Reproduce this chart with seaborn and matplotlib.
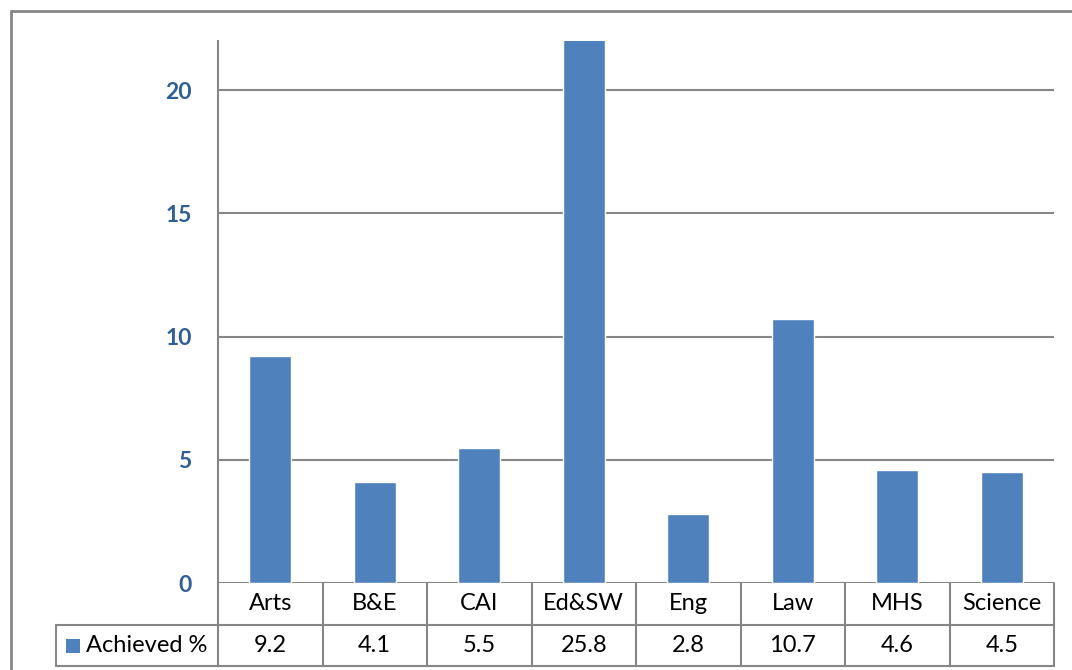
import matplotlib
matplotlib.use("Agg")
import matplotlib.pyplot as plt
import matplotlib.transforms as mtransforms
from matplotlib.patches import Rectangle
from matplotlib.lines import Line2D
import seaborn as sns
import pandas as pd

categories = ["Arts", "B&E", "CAI", "Ed&SW", "Eng", "Law", "MHS", "Science"]
achieved = [9.2, 4.1, 5.5, 25.8, 2.8, 10.7, 4.6, 4.5]
series_name = "Achieved %"
y_ticks = [0, 5, 10, 15, 20]

BAR = "#4F81BD"
GRID = "#868686"
TICK_TXT = "#2F5F95"
FONT = "Lato"

sns.set_theme(style="white")
plt.rcParams["font.family"] = [FONT, "DejaVu Sans"]

W, H = 1072, 670
fig = plt.figure(figsize=(W / 100, H / 100), dpi=100)

def fx(px):
    return px / W

def fy(py):
    return 1 - py / H

# plot area
x0, x1, ytop, ybot = 218, 1054, 41, 583
ax = fig.add_axes([fx(x0), fy(ybot), fx(x1) - fx(x0), fy(ytop) - fy(ybot)])

df = pd.DataFrame({"category": categories, "value": achieved})
sns.barplot(data=df, x="category", y="value", color=BAR, saturation=1,
            width=0.4, ax=ax, zorder=3)

ax.set_xlim(-0.5, len(categories) - 0.5)
ax.set_ylim(0, 22)
ax.set_yticks(y_ticks)
ax.set_yticklabels([str(t) for t in y_ticks], color=TICK_TXT,
                   fontsize=16.5, fontweight="bold")
ax.tick_params(axis="y", direction="out", length=8, width=1.5, color=GRID, pad=11)
ax.set_xticks([])
ax.set_xlabel("")
ax.set_ylabel("")
for side in ["top", "right", "bottom"]:
    ax.spines[side].set_visible(False)
ax.spines["left"].set_color(GRID)
ax.spines["left"].set_linewidth(1.5)
ax.yaxis.grid(True, color=GRID, linewidth=1.5, zorder=0)
ax.set_axisbelow(True)

# data table underneath the plot area, x in data units, y in axes fraction
trans = mtransforms.blended_transform_factory(ax.transData, ax.transAxes)
ah = ybot - ytop
r1 = -(625 - ybot) / ah
r2 = -(666 - ybot) / ah
n = len(categories)
lw = 1.5
line_kw = dict(color=GRID, linewidth=lw, clip_on=False)
TXT = 17

# vertical separators
for i in range(n + 1):
    xv = i - 0.5
    ax.add_line(Line2D([xv, xv], [0, r2], transform=trans, **line_kw))
# horizontal rules
ax.add_line(Line2D([-0.5, n - 0.5], [r1, r1], transform=trans, **line_kw))
ax.add_line(Line2D([-0.5, n - 0.5], [r2, r2], transform=trans, **line_kw))

# legend cell spans into the figure margin
leg_left = 56
fig.add_artist(Line2D([fx(leg_left), fx(x0)], [fy(625), fy(625)], **line_kw))
fig.add_artist(Line2D([fx(leg_left), fx(x0)], [fy(666), fy(666)], **line_kw))
fig.add_artist(Line2D([fx(leg_left), fx(leg_left)], [fy(625), fy(666)], **line_kw))
fig.add_artist(Rectangle((fx(66), fy(653)), fx(14), fy(639) - fy(653),
                         facecolor=BAR, edgecolor="none"))
fig.text(fx(86), fy(645.5), series_name, ha="left", va="center",
         fontsize=TXT, color="black")

for i, (c, v) in enumerate(zip(categories, achieved)):
    ax.text(i, r1 / 2, c, transform=trans, ha="center", va="center",
            fontsize=TXT, color="black")
    ax.text(i, (r1 + r2) / 2, f"{v:g}", transform=trans, ha="center",
            va="center", fontsize=TXT, color="black")

# outer chart frame
fig.add_artist(Rectangle((fx(11), fy(700)), fx(1100) - fx(11), fy(11) - fy(700),
                         facecolor="none", edgecolor="#878787", linewidth=2,
                         clip_on=False))

fig.savefig("out.png", dpi=100)
